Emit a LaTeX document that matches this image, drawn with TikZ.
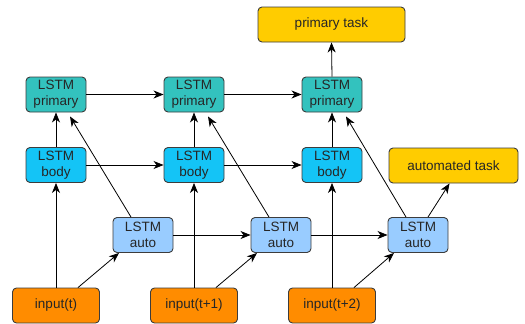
\documentclass[tikz,border=0pt]{standalone}
\usepackage{fontspec}
\setmainfont{Liberation Sans}
\usetikzlibrary{arrows.meta,calc}
\definecolor{primcol}{RGB}{51,194,190}
\definecolor{bodycol}{RGB}{20,196,246}
\definecolor{autocol}{RGB}{153,204,255}
\definecolor{inputcol}{RGB}{255,140,0}
\definecolor{taskcol}{RGB}{255,204,0}
\definecolor{edgecol}{RGB}{60,60,60}
\tikzset{
  box/.style={draw=edgecol, line width=0.9pt, rounded corners=4pt, align=center,
    inner sep=0pt, font=\fontsize{13.5}{16}\selectfont, text=black!85},
  cell/.style={box, minimum width=60pt, minimum height=35pt},
  prim/.style={cell, fill=primcol},
  bodybox/.style={cell, fill=bodycol},
  autobox/.style={cell, fill=autocol},
  inbox/.style={box, fill=inputcol, minimum width=87pt, minimum height=35pt},
  taskbox/.style={box, fill=taskcol, minimum height=35pt},
  arr/.style={draw=black, line width=0.8pt, -{Stealth[length=10pt,width=8pt,inset=3pt]}}
}
\begin{document}
\begin{tikzpicture}[x=1pt,y=-1pt]
\useasboundingbox (0,0) rectangle (525,324);
% LSTM cells, three time steps
\node[prim] (p1) at (56,94.5) {LSTM\\primary};
\node[prim] (p2) at (194,94.5) {LSTM\\primary};
\node[prim] (p3) at (332,94.5) {LSTM\\primary};
\node[bodybox] (b1) at (56,165) {LSTM\\body};
\node[bodybox] (b2) at (194,165) {LSTM\\body};
\node[bodybox] (b3) at (332,165) {LSTM\\body};
\node[autobox] (a1) at (143,235) {LSTM\\auto};
\node[autobox] (a2) at (281,235) {LSTM\\auto};
\node[autobox] (a3) at (418,235) {LSTM\\auto};
% inputs
\node[inbox] (i1) at (56,305.5) {input(t)};
\node[inbox] (i2) at (194,305.5) {input(t+1)};
\node[inbox] (i3) at (332,305.5) {input(t+2)};
% outputs
\node[taskbox, minimum width=147pt] (pt) at (331.5,24.5) {primary task};
\node[taskbox, minimum width=129pt] (at) at (453.5,165.5) {automated task};
% recurrent connections
\draw[arr] (p1) -- (p2);
\draw[arr] (p2) -- (p3);
\draw[arr] (b1) -- (b2);
\draw[arr] (b2) -- (b3);
\draw[arr] (a1) -- (a2);
\draw[arr] (a2) -- (a3);
% vertical flow
\foreach \k in {1,2,3}{
  \draw[arr] (i\k.north) -- (b\k.south);
  \draw[arr] (b\k.north) -- (p\k.south);
  \draw[arr] ($(i\k.north)+(22,0)$) -- ($(a\k.south)+(-24,0)$);
  \draw[arr] ($(a\k.north)+(-12,0)$) -- ($(p\k.south)+(14,4)$);
}
\draw[arr] (p3.north) -- (pt.south);
\draw[arr] ($(a3.north)+(10,0)$) -- ($(at.south)+(-4,0)$);
\end{tikzpicture}
\end{document}
